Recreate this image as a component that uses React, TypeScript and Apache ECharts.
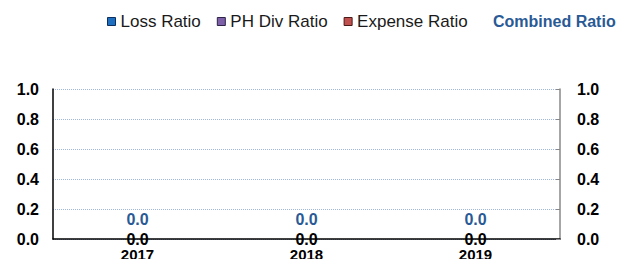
import React, { useEffect, useRef } from "react";
import * as echarts from "echarts";

const categories = ["2017", "2018", "2019"];
const lossRatio = [0, 0, 0];
const phDivRatio = [0, 0, 0];
const expenseRatio = [0, 0, 0];
const combinedRatio = [0, 0, 0];

const FONT = "Arial, 'Liberation Sans', sans-serif";

export default function App() {
  const ref = useRef<HTMLDivElement>(null);
  useEffect(() => {
    if (!ref.current) return;
    const chart = echarts.init(ref.current, null, { renderer: "svg" });
    const fmt = (p: any) => Number(p.value).toFixed(1);
    const axisLabelBase = {
      color: "#000",
      fontWeight: "bold",
      fontSize: 16,
      fontFamily: FONT,
    };
    chart.setOption({
      animation: false,
      legend: [
        {
          top: 8,
          left: 102,
          icon: "rect",
          itemWidth: 8,
          itemHeight: 8,
          itemGap: 16,
          textStyle: { fontSize: 17, fontFamily: FONT, color: "#1a1a1a" },
          data: [
            { name: "Loss Ratio", itemStyle: { borderColor: "#0d2f5e", borderWidth: 1 } },
            { name: "PH Div Ratio", itemStyle: { borderColor: "#2e2346", borderWidth: 1 } },
            { name: "Expense Ratio", itemStyle: { borderColor: "#4a1a19", borderWidth: 1 } },
          ],
        },
        {
          top: 8,
          left: 475,
          itemWidth: 8,
          itemHeight: 8,
          textStyle: { fontSize: 16, fontFamily: FONT, fontWeight: "bold", color: "#2a5a95" },
          data: [{ name: "Combined Ratio", icon: "none" }],
        },
      ],
      grid: { left: 53, right: 66, top: 89, bottom: 28 },
      xAxis: {
        type: "category",
        data: categories,
        axisLine: { lineStyle: { color: "#000", width: 1.5 } },
        axisTick: { show: false },
        axisLabel: { ...axisLabelBase, fontSize: 15, margin: 8, lineHeight: 15 },
      },
      yAxis: [
        {
          type: "value",
          min: 0,
          max: 1,
          interval: 0.2,
          position: "left",
          axisLine: { show: true, lineStyle: { color: "#000", width: 1.5 } },
          axisTick: { show: false },
          axisLabel: {
            ...axisLabelBase,
            margin: 14,
            formatter: (v: number) => v.toFixed(1),
          },
          splitLine: { lineStyle: { color: "#9fb6e0", type: "dotted", width: 1 } },
        },
        {
          type: "value",
          min: 0,
          max: 1,
          interval: 0.2,
          position: "right",
          axisLine: { show: true, lineStyle: { color: "#888", width: 1.5 } },
          axisTick: { show: true, inside: true, length: 4, lineStyle: { color: "#888" } },
          axisLabel: {
            ...axisLabelBase,
            margin: 17,
            formatter: (v: number) => v.toFixed(1),
          },
          splitLine: { show: false },
        },
      ],
      series: [
        {
          name: "Loss Ratio",
          type: "bar",
          stack: "total",
          barWidth: "40%",
          data: lossRatio,
          itemStyle: { color: "#1f6fc0" },
          label: {
            show: true,
            position: "inside",
            offset: [0, 0],
            formatter: fmt,
            color: "#000",
            fontWeight: "bold",
            fontSize: 16,
            lineHeight: 12,
            fontFamily: FONT,
          },
        },
        {
          name: "PH Div Ratio",
          type: "bar",
          stack: "total",
          data: phDivRatio,
          itemStyle: { color: "#7e60a8" },
        },
        {
          name: "Expense Ratio",
          type: "bar",
          stack: "total",
          data: expenseRatio,
          itemStyle: { color: "#c0504d" },
        },
        {
          name: "Combined Ratio",
          type: "line",
          data: combinedRatio,
          symbol: "circle",
          symbolSize: 0,
          showSymbol: true,
          lineStyle: { opacity: 0 },
          itemStyle: { color: "#2a5a95" },
          label: {
            show: true,
            position: "top",
            distance: 12,
            formatter: fmt,
            color: "#2a5a95",
            fontWeight: "bold",
            fontSize: 16,
            fontFamily: FONT,
          },
        },
      ],
    });
    return () => chart.dispose();
  }, []);
  return <div ref={ref} style={{ width: 626, height: 267, margin: -8 }} />;
}
